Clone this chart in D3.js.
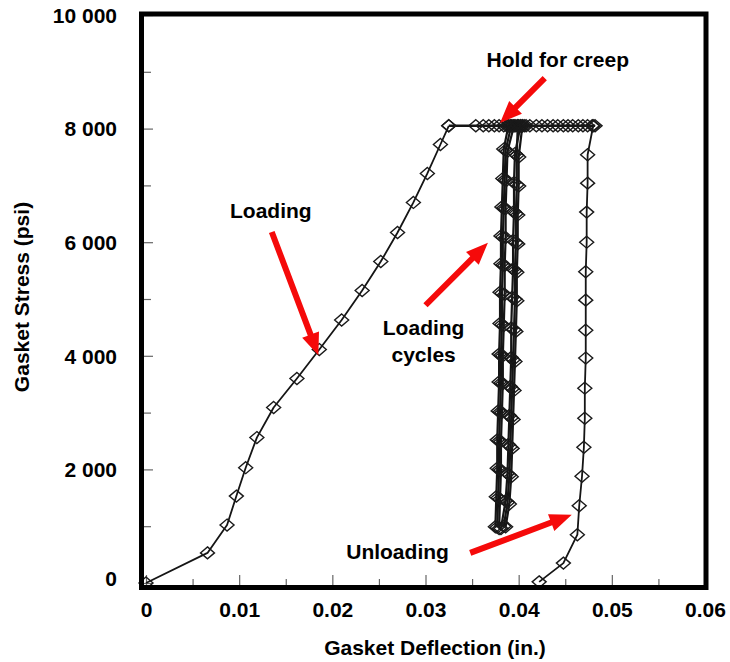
<!DOCTYPE html>
<html>
<head>
<meta charset="utf-8">
<script src="https://cdn.jsdelivr.net/npm/d3@7"></script>
<style>
  html, body { margin: 0; padding: 0; background: #fff; }
  text { font-family: "Liberation Sans", Arial, Helvetica, sans-serif; font-weight: bold; }
</style>
</head>
<body>
<svg id="chart" width="730" height="662"></svg>
<script>
// ---------- data ----------
const xTicks = [0, 0.01, 0.02, 0.03, 0.04, 0.05, 0.06];
const xTickLabels = ["0", "0.01", "0.02", "0.03", "0.04", "0.05", "0.06"];
const xMinorTicks = [0.005, 0.015, 0.025, 0.035, 0.045, 0.055];
const yTicks = [0, 2000, 4000, 6000, 8000, 10000];
const yTickLabels = ["0", "2 000", "4 000", "6 000", "8 000", "10 000"];
const yMinorTicks = [1000, 3000, 5000, 7000, 9000];

const xTitle = "Gasket Deflection (in.)";
const yTitle = "Gasket Stress (psi)";

// initial loading
const loadingX = [0, 0.0066, 0.0087, 0.0097, 0.0107, 0.0119, 0.0137, 0.0162, 0.0186, 0.0210, 0.0232, 0.0252, 0.0270, 0.0287, 0.0302, 0.0316, 0.0325];
const loadingY = [0, 530, 1020, 1530, 2030, 2560, 3090, 3600, 4110, 4630, 5150, 5660, 6170, 6700, 7210, 7720, 8050];

// hold for creep at ~8 000 psi
const holdX = [0.0325, 0.0354, 0.0362, 0.0368, 0.0374, 0.0379, 0.0384, 0.0387, 0.0389, 0.0391, 0.0393, 0.0395, 0.0397, 0.0399, 0.0400, 0.0402, 0.0404, 0.0406, 0.0408, 0.0412, 0.0419, 0.0425, 0.0431, 0.0437, 0.0442, 0.0448, 0.0453, 0.0458, 0.0464, 0.0469, 0.0474, 0.0479, 0.0482];
const holdY = [8050, 8050, 8050, 8050, 8050, 8050, 8050, 8050, 8050, 8050, 8050, 8050, 8050, 8050, 8050, 8050, 8050, 8050, 8050, 8050, 8050, 8050, 8050, 8050, 8050, 8050, 8050, 8050, 8050, 8050, 8050, 8050, 8050];

// loading cycles (unload then reload)
const cycle1UnloadX = [0.0399, 0.0398, 0.0398, 0.0397, 0.0397, 0.0396, 0.0396, 0.0395, 0.0394, 0.0393, 0.0392, 0.0391, 0.0390, 0.0388, 0.0384];
const cycle1UnloadY = [8050, 7530, 7010, 6500, 5990, 5500, 5000, 4460, 3930, 3420, 2910, 2400, 1900, 1420, 1000];
const cycle1ReloadX = [0.0377, 0.0378, 0.0379, 0.0379, 0.0380, 0.0381, 0.0381, 0.0382, 0.0382, 0.0383, 0.0383, 0.0384, 0.0385, 0.0386, 0.0392];
const cycle1ReloadY = [980, 1500, 2000, 2500, 3010, 3520, 4010, 4550, 5100, 5600, 6090, 6600, 7100, 7620, 8050];
const cycle2UnloadX = [0.0402, 0.0396, 0.0395, 0.0395, 0.0394, 0.0394, 0.0393, 0.0392, 0.0392, 0.0391, 0.0390, 0.0389, 0.0388, 0.0386, 0.0381];
const cycle2UnloadY = [8050, 7560, 7050, 6540, 6030, 5530, 5030, 4490, 3970, 3460, 2950, 2440, 1930, 1450, 960];
const cycle2ReloadX = [0.0379, 0.0380, 0.0381, 0.0381, 0.0382, 0.0383, 0.0383, 0.0384, 0.0385, 0.0385, 0.0386, 0.0386, 0.0387, 0.0388, 0.0395];
const cycle2ReloadY = [960, 1480, 1990, 2490, 3000, 3510, 4000, 4530, 5080, 5590, 6080, 6590, 7090, 7600, 8050];
const cycle3UnloadX = [0.0404, 0.0400, 0.0400, 0.0399, 0.0399, 0.0398, 0.0398, 0.0397, 0.0396, 0.0395, 0.0394, 0.0393, 0.0392, 0.0390, 0.0386];
const cycle3UnloadY = [8050, 7500, 6990, 6480, 5970, 5470, 4970, 4430, 3900, 3390, 2880, 2370, 1870, 1390, 990];
const cycle3ReloadX = [0.0375, 0.0376, 0.0377, 0.0377, 0.0378, 0.0379, 0.0379, 0.0380, 0.0380, 0.0381, 0.0381, 0.0382, 0.0383, 0.0384, 0.0389];
const cycle3ReloadY = [990, 1520, 2020, 2520, 3030, 3540, 4030, 4570, 5120, 5620, 6110, 6620, 7120, 7640, 8050];

// final unloading
const unloadX = [0.0480, 0.0474, 0.0474, 0.0473, 0.0473, 0.0472, 0.0472, 0.0472, 0.0472, 0.0471, 0.0471, 0.0470, 0.0468, 0.0465, 0.0463, 0.0448, 0.0422];
const unloadY = [8050, 7540, 7040, 6530, 6000, 5480, 4980, 4450, 3960, 3430, 2900, 2390, 1880, 1360, 850, 350, 20];

// annotations (data coordinates)
const annLabels = ["Hold for creep", "Loading", "Loading\ncycles", "Unloading"];
const annTextX = [0.0442, 0.0134, 0.0298, 0.0270];
const annTextY = [9210, 6550, 4490, 560];
const arrowFromX = [0.0428, 0.0135, 0.0300, 0.0348];
const arrowFromY = [8890, 6180, 4890, 530];
const arrowToX = [0.0380, 0.0185, 0.0367, 0.0457];
const arrowToY = [8100, 4010, 5990, 1200];

// ---------- layout ----------
const svg = d3.select("#chart");
const x = d3.scaleLinear().domain([0, 0.06]).range([146, 705]);
const y = d3.scaleLinear().domain([0, 10000]).range([583, 15]);

const frame = { left: 141.5, right: 706, top: 14, bottom: 587.5 };

// tick marks (inside)
const tickColor = "#666";
const gxT = svg.append("g").attr("transform", `translate(0,${frame.bottom - 2.5})`);
gxT.call(d3.axisBottom(x).tickValues(xTicks).tickSize(-10).tickFormat(""));
const gxM = svg.append("g").attr("transform", `translate(0,${frame.bottom - 2.5})`);
gxM.call(d3.axisBottom(x).tickValues(xMinorTicks).tickSize(-6).tickFormat(""));
const gyT = svg.append("g").attr("transform", `translate(${frame.left + 2.5},0)`);
gyT.call(d3.axisLeft(y).tickValues(yTicks).tickSize(-9).tickFormat(""));
const gyM = svg.append("g").attr("transform", `translate(${frame.left + 2.5},0)`);
gyM.call(d3.axisLeft(y).tickValues(yMinorTicks).tickSize(-7).tickFormat(""));
[gxT, gxM, gyT, gyM].forEach(g => {
  g.select(".domain").remove();
  g.selectAll("line").attr("stroke", tickColor).attr("stroke-width", 1.2);
});

// tick labels
const gxL = svg.append("g").attr("transform", `translate(0,602)`);
gxL.call(d3.axisBottom(x).tickValues(xTicks).tickSize(0).tickPadding(0)
  .tickFormat((d, i) => xTickLabels[i]));
gxL.select(".domain").remove();
gxL.selectAll("text").attr("font-size", 21).attr("fill", "#000")
  .attr("font-family", "'Liberation Sans', Arial, sans-serif").attr("font-weight", "bold")
  .attr("dy", "0.71em");

const gyL = svg.append("g").attr("transform", `translate(117,0)`);
gyL.call(d3.axisLeft(y).tickValues(yTicks).tickSize(0).tickPadding(0)
  .tickFormat((d, i) => yTickLabels[i]));
gyL.select(".domain").remove();
gyL.selectAll("text").attr("font-size", 21).attr("fill", "#000")
  .attr("font-family", "'Liberation Sans', Arial, sans-serif").attr("font-weight", "bold")
  .attr("dy", (d) => d === 0 ? "0.12em" : "0.35em");

// axis titles
svg.append("text").attr("x", 435).attr("y", 655).attr("text-anchor", "middle")
  .attr("font-size", 21).text(xTitle);
svg.append("text").attr("transform", "translate(29,297) rotate(-90)").attr("text-anchor", "middle")
  .attr("font-size", 21).text(yTitle);

// ---------- series ----------
const zip = (xs, ys) => xs.map((v, i) => [v, ys[i]]);
const series = [
  { pts: zip(loadingX, loadingY), w: 1.8 },
  { pts: zip(holdX, holdY), w: 2.4 },
  { pts: zip(cycle1UnloadX, cycle1UnloadY), w: 2.2 },
  { pts: zip(cycle1ReloadX, cycle1ReloadY), w: 2.2 },
  { pts: zip(cycle2UnloadX, cycle2UnloadY), w: 2.2 },
  { pts: zip(cycle2ReloadX, cycle2ReloadY), w: 2.2 },
  { pts: zip(cycle3UnloadX, cycle3UnloadY), w: 2.2 },
  { pts: zip(cycle3ReloadX, cycle3ReloadY), w: 2.2 },
  { pts: zip(unloadX, unloadY), w: 1.8 }
];
const line = d3.line().x(d => x(d[0])).y(d => y(d[1]));
const gS = svg.append("g");
series.forEach(s => {
  gS.append("path").attr("d", line(s.pts)).attr("fill", "none")
    .attr("stroke", "#151515").attr("stroke-width", s.w).attr("stroke-linejoin", "round");
});
const diamond = "M0,-6L7,0L0,6L-7,0Z";
series.forEach(s => {
  gS.selectAll(null).data(s.pts).enter().append("path")
    .attr("d", diamond)
    .attr("transform", d => `translate(${x(d[0])},${y(d[1])})`)
    .attr("fill", "none").attr("stroke", "#1a1a1a").attr("stroke-width", 1.4);
});

// frame
svg.append("rect").attr("x", frame.left).attr("y", frame.top)
  .attr("width", frame.right - frame.left).attr("height", frame.bottom - frame.top)
  .attr("fill", "none").attr("stroke", "#000").attr("stroke-width", 5);

// ---------- annotations ----------
const red = "#f50a0a";
function arrowPath(x1, y1, x2, y2) {
  const dx = x2 - x1, dy = y2 - y1, len = Math.hypot(dx, dy);
  const ux = dx / len, uy = dy / len, nx = -uy, ny = ux;
  const sw = 3, hl = 22, hw = 9;
  const bx = x2 - ux * hl, by = y2 - uy * hl;
  const p = [
    [x1 + nx * sw, y1 + ny * sw], [bx + nx * sw, by + ny * sw], [bx + nx * hw, by + ny * hw],
    [x2, y2], [bx - nx * hw, by - ny * hw], [bx - nx * sw, by - ny * sw], [x1 - nx * sw, y1 - ny * sw]
  ];
  return "M" + p.map(q => q.join(",")).join("L") + "Z";
}
const gA = svg.append("g");
annLabels.forEach((lab, i) => {
  gA.append("path").attr("d", arrowPath(x(arrowFromX[i]), y(arrowFromY[i]), x(arrowToX[i]), y(arrowToY[i])))
    .attr("fill", red);
  const lines = lab.split("\n");
  const t = gA.append("text").attr("text-anchor", "middle").attr("font-size", 21).attr("fill", "#000");
  lines.forEach((ln, j) => {
    t.append("tspan").attr("x", x(annTextX[i])).attr("y", y(annTextY[i]) + 7.5 + j * 27).text(ln);
  });
});
</script>
</body>
</html>
